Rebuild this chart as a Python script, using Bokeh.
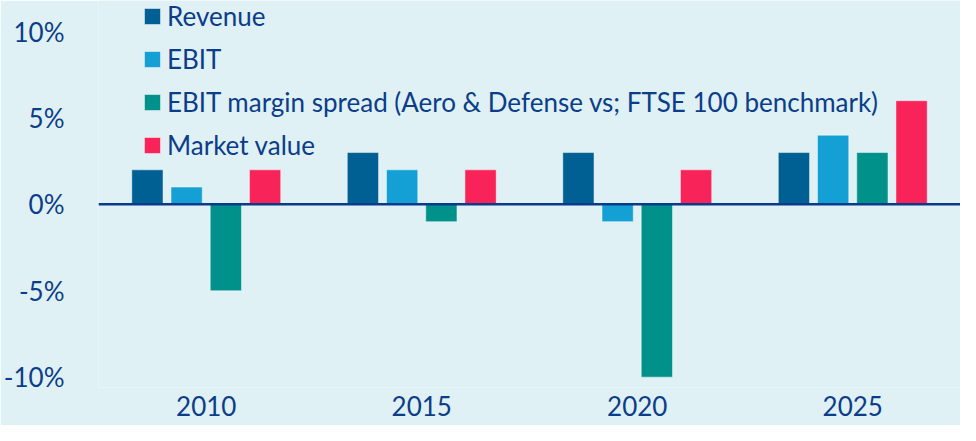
from bokeh.plotting import figure
from bokeh.models import FactorRange, Range1d, FixedTicker, Legend, LegendItem, Span, ColumnDataSource, Title
from bokeh.transform import dodge
from bokeh.embed import file_html
from bokeh.resources import INLINE

years = ["2010", "2015", "2020", "2025"]
revenue = [2, 3, 3, 3]
ebit = [1, 2, -1, 4]
spread = [-5, -1, -10, 3]
market = [2, 2, 2, 6]
series_names = ["Revenue", "EBIT",
                "EBIT margin spread (Aero & Defense vs; FTSE 100 benchmark)",
                "Market value"]
colors = ["#006094", "#14a0d4", "#00918a", "#f72359"]
y_ticks = [-10, -5, 0, 5, 10]
y_tick_labels = ["-10%", "-5%", "0%", "5%", "10%"]

BG = "#dff1f5"
TXT = "#0b3d8a"
FONT = "Lato"
FS = "26px"

src = ColumnDataSource(dict(years=years, revenue=revenue, ebit=ebit, spread=spread, market=market))

p = figure(x_range=FactorRange(*years), y_range=Range1d(-10.6, 11.8),
           width=960, height=425, output_backend="svg", toolbar_location=None,
           background_fill_color=BG, border_fill_color=BG, outline_line_color=None,
           min_border_left=0, min_border_right=0, min_border_top=0, min_border_bottom=0)

offsets = [-0.273, -0.091, 0.091, 0.273]
keys = ["revenue", "ebit", "spread", "market"]
renderers = []
for k, off, c in zip(keys, offsets, colors):
    r = p.vbar(x=dodge("years", off, range=p.x_range), top=k, bottom=0, width=0.145, source=src,
               fill_color=c, line_color="white", line_alpha=0.45, line_width=1)
    renderers.append(r)

p.add_layout(Span(location=0, dimension="width", line_color="#0a3a8c", line_width=2.5))

p.xgrid.visible = False
p.ygrid.visible = False
for ax in (p.xaxis, p.yaxis):
    ax.axis_line_color = None
    ax.major_tick_line_color = None
    ax.minor_tick_line_color = None
    ax.major_label_text_color = TXT
    ax.major_label_text_font = FONT
    ax.major_label_text_font_size = FS
p.yaxis.ticker = FixedTicker(ticks=y_ticks)
p.yaxis.major_label_overrides = {t: l for t, l in zip(y_ticks, y_tick_labels)}
p.yaxis.major_label_standoff = 28
p.xaxis.major_label_standoff = 2

p.add_layout(Title(text=" ", text_font_size="4px", standoff=0), "below")

legend = Legend(items=[LegendItem(label=n, renderers=[r]) for n, r in zip(series_names, renderers)],
                location=(44, 226), background_fill_alpha=0, border_line_color=None,
                label_text_font=FONT, label_text_font_size=FS, label_text_color=TXT,
                glyph_width=20, glyph_height=20, label_height=20, spacing=11,
                padding=0, margin=0, label_standoff=5)
p.add_layout(legend, "center")

open("out.html", "w").write(file_html(p, INLINE))
